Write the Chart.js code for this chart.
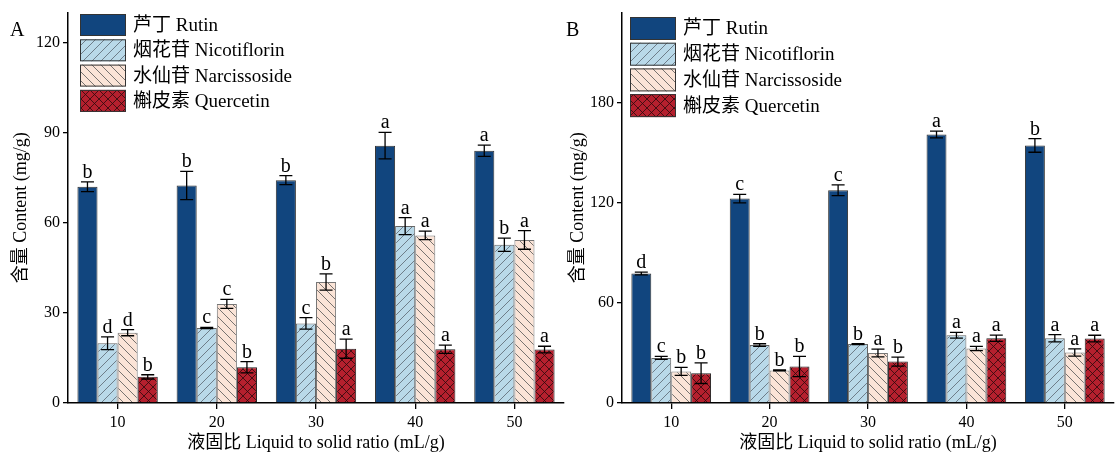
<!DOCTYPE html>
<html>
<head>
<meta charset="utf-8">
<script src="https://cdn.jsdelivr.net/npm/chart.js@4.4.1/dist/chart.umd.min.js"></script>
<style>
  body { margin: 0; background: #fff; }
  #wrap { position: relative; width: 1115px; height: 459px; overflow: hidden; }
  canvas { position: absolute; top: 0; }
  #chartA { left: 0; }
  #chartB { left: 557px; }
</style>
</head>
<body>
<div id="wrap">
  <canvas id="chartA" width="570" height="459"></canvas>
  <canvas id="chartB" width="558" height="459"></canvas>
</div>
<script>
// 液固比 categories
const ratios = ['10', '20', '30', '40', '50'];
const seriesNames = ['芦丁 Rutin', '烟花苷 Nicotiflorin', '水仙苷 Narcissoside', '槲皮素 Quercetin'];

// Panel A values (mg/g)
const rutinA = [72.0, 72.4, 74.2, 85.7, 84.0];
const nicoA  = [19.9, 25.0, 26.5, 58.9, 52.7];
const narcA  = [23.4, 33.0, 40.3, 55.8, 54.3];
const querA  = [8.7, 11.9, 18.1, 17.9, 17.8];
const rutinAErr = [1.6, 4.7, 1.5, 4.4, 1.9];
const nicoAErr  = [2.1, 0.2, 1.9, 2.8, 2.2];
const narcAErr  = [1.0, 1.5, 2.7, 1.4, 3.1];
const querAErr  = [0.7, 1.9, 3.2, 1.4, 1.1];
const rutinASig = ['b', 'b', 'b', 'a', 'a'];
const nicoASig  = ['d', 'c', 'c', 'a', 'b'];
const narcASig  = ['d', 'c', 'b', 'a', 'a'];
const querASig  = ['b', 'b', 'a', 'a', 'a'];

// Panel B values (mg/g)
const rutinB = [77.6, 122.5, 127.5, 160.9, 154.4];
const nicoB  = [27.0, 34.7, 35.3, 40.6, 38.8];
const narcB  = [18.9, 19.5, 30.0, 32.7, 30.3];
const querB  = [17.9, 21.9, 24.8, 38.8, 38.6];
const rutinBErr = [0.8, 2.5, 3.2, 2.0, 4.1];
const nicoBErr  = [0.9, 0.8, 0.3, 1.7, 2.2];
const narcBErr  = [2.4, 0.3, 2.3, 1.3, 2.2];
const querBErr  = [6.2, 6.1, 2.7, 1.9, 2.0];
const rutinBSig = ['d', 'c', 'c', 'a', 'b'];
const nicoBSig  = ['c', 'b', 'b', 'a', 'a'];
const narcBSig  = ['b', 'b', 'a', 'a', 'a'];
const querBSig  = ['b', 'b', 'b', 'a', 'a'];

const ticksA = [0, 30, 60, 90, 120];
const ticksB = [0, 60, 120, 180];

const FONT = '"Liberation Serif", "Noto Sans CJK SC", serif';
Chart.defaults.font.family = FONT;
Chart.defaults.color = '#000';

function hatch(bg, line, type) {
  const s = 9;
  const c = document.createElement('canvas');
  c.width = c.height = s;
  const g = c.getContext('2d');
  g.fillStyle = bg;
  g.fillRect(0, 0, s, s);
  g.strokeStyle = line;
  g.lineWidth = 0.8;
  g.beginPath();
  if (type !== '\\') {
    g.moveTo(0, s); g.lineTo(s, 0);
    g.moveTo(-1, 1); g.lineTo(1, -1);
    g.moveTo(s - 1, s + 1); g.lineTo(s + 1, s - 1);
  }
  if (type !== '/') {
    g.moveTo(0, 0); g.lineTo(s, s);
    g.moveTo(s - 1, -1); g.lineTo(s + 1, 1);
    g.moveTo(-1, s - 1); g.lineTo(1, s + 1);
  }
  g.stroke();
  return g.createPattern(c, 'repeat');
}

const fills = [
  '#11457e',
  hatch('#b9d9e9', '#5a6670', '/'),
  hatch('#fbe4d7', '#555', '\\'),
  hatch('#b5202e', '#2a0a0c', 'x')
];
const borders = ['#333', '#666', '#777', '#222'];

// error bars + significance letters
const errorBars = {
  id: 'errorBars',
  afterDatasetsDraw(chart) {
    const { ctx } = chart;
    const y = chart.scales.y;
    ctx.save();
    chart.data.datasets.forEach((ds, i) => {
      const meta = chart.getDatasetMeta(i);
      meta.data.forEach((bar, j) => {
        const v = ds.data[j], e = ds.errors[j];
        const top = y.getPixelForValue(v + e), bot = y.getPixelForValue(v - e);
        const x = bar.x, cap = 6.5;
        ctx.strokeStyle = '#000';
        ctx.lineWidth = 1.3;
        ctx.beginPath();
        ctx.moveTo(x, top); ctx.lineTo(x, bot);
        ctx.moveTo(x - cap, top); ctx.lineTo(x + cap, top);
        ctx.moveTo(x - cap, bot); ctx.lineTo(x + cap, bot);
        ctx.stroke();
        ctx.fillStyle = '#000';
        ctx.font = '20px ' + FONT;
        ctx.textAlign = 'center';
        ctx.textBaseline = 'alphabetic';
        ctx.fillText(ds.letters[j], x, top - 4);
      });
    });
    ctx.restore();
  }
};

// legend drawn inside the plot + panel letter
const boxLegend = {
  id: 'boxLegend',
  afterDraw(chart, args, o) {
    const { ctx } = chart;
    ctx.save();
    chart.data.datasets.forEach((ds, i) => {
      const by = o.y + i * o.step;
      ctx.fillStyle = ds.backgroundColor;
      ctx.fillRect(o.x, by, o.w, o.h);
      ctx.strokeStyle = '#333';
      ctx.lineWidth = 1;
      ctx.strokeRect(o.x + 0.5, by + 0.5, o.w - 1, o.h - 1);
      ctx.fillStyle = '#000';
      ctx.font = '19px ' + FONT;
      ctx.textAlign = 'left';
      ctx.textBaseline = 'middle';
      ctx.fillText(ds.label, o.x + o.w + 7, by + o.h / 2 + 1);
    });
    ctx.font = '20px ' + FONT;
    ctx.textAlign = 'left';
    ctx.textBaseline = 'alphabetic';
    ctx.fillText(o.panel, o.px, o.py);
    ctx.restore();
  }
};

function makeChart(id, cols, errs, sigs, ticks, yMax, yWidth, padRight, legend) {
  new Chart(document.getElementById(id), {
    type: 'bar',
    data: {
      labels: ratios,
      datasets: cols.map((d, i) => ({
        label: seriesNames[i],
        data: d,
        errors: errs[i],
        letters: sigs[i],
        backgroundColor: fills[i],
        borderColor: borders[i],
        borderWidth: 1,
        categoryPercentage: 0.81,
        barPercentage: 1.0
      }))
    },
    options: {
      responsive: false,
      animation: false,
      layout: { padding: { left: 8, right: padRight, top: 7, bottom: 0 } },
      plugins: {
        legend: { display: false },
        tooltip: { enabled: false },
        boxLegend: legend
      },
      scales: {
        x: {
          grid: { display: true, drawOnChartArea: false, offset: false, tickLength: 6, color: '#000', lineWidth: 1.3 },
          border: { display: true, color: '#000', width: 1.5 },
          ticks: { font: { size: 16 }, padding: 4, color: '#000' },
          title: { display: true, text: '液固比 Liquid to solid ratio (mL/g)', font: { size: 18 }, padding: { top: 0, bottom: 5 } },
          afterFit: s => { s.height = 56; }
        },
        y: {
          min: 0,
          max: yMax,
          grid: { display: true, drawOnChartArea: false, tickLength: 5, color: '#000', lineWidth: 1.3 },
          border: { display: true, color: '#000', width: 1.5 },
          ticks: { font: { size: 16 }, padding: 3, color: '#000' },
          afterBuildTicks: s => { s.ticks = ticks.map(v => ({ value: v })); },
          title: { display: true, text: '含量 Content (mg/g)', font: { size: 18 }, padding: { top: 2, bottom: 0 } },
          afterFit: s => { s.width = yWidth; }
        }
      }
    },
    plugins: [errorBars, boxLegend]
  });
}

makeChart('chartA',
  [rutinA, nicoA, narcA, querA],
  [rutinAErr, nicoAErr, narcAErr, querAErr],
  [rutinASig, nicoASig, narcASig, querASig],
  ticksA, 130, 60, 6,
  { x: 80, y: 14, w: 46, h: 22, step: 25.3, panel: 'A', px: 10, py: 36 });

makeChart('chartB',
  [rutinB, nicoB, narcB, querB],
  [rutinBErr, nicoBErr, narcBErr, querBErr],
  [rutinBSig, nicoBSig, narcBSig, querBSig],
  ticksB, 234, 57, 1,
  { x: 73, y: 17, w: 46, h: 23, step: 25.7, panel: 'B', px: 9, py: 36 });
</script>
</body>
</html>
